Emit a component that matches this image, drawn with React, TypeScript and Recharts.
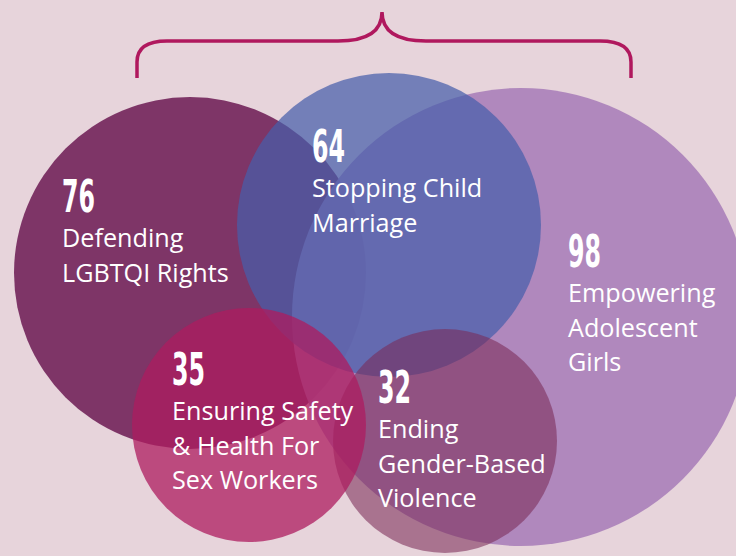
import { ScatterChart, Scatter, XAxis, YAxis, ZAxis, Customized } from 'recharts'

// drawing order matters: later circles sit on top
const KEYS = ['lgbtqi', 'girls', 'marriage', 'violence', 'sexwork']
const COUNTS = [76, 98, 64, 32, 35]
const CENTER_X = [190, 521, 389, 445, 249]
const CENTER_Y = [273, 317, 225, 441, 425]
const RADIUS = [176, 229, 152, 112, 117]

const LABEL_LINES = [
  ['Defending', 'LGBTQI Rights'],
  ['Empowering', 'Adolescent', 'Girls'],
  ['Stopping Child', 'Marriage'],
  ['Ending', 'Gender-Based', 'Violence'],
  ['Ensuring Safety', '& Health For', 'Sex Workers'],
]
const LABEL_X = [62, 568, 312, 378, 172]
const LABEL_Y = [212, 267, 162, 403, 385]

const COLORS: Record<string, { fill: string; opacity: number }> = {
  lgbtqi:   { fill: '#72245a', opacity: 0.9 },
  girls:    { fill: '#aa80b9', opacity: 0.9 },
  marriage: { fill: '#465eaa', opacity: 0.72 },
  violence: { fill: '#792a57', opacity: 0.57 },
  sexwork:  { fill: '#ad1c5f', opacity: 0.75 },
}

const BG = '#e7d4db'
const W = 736
const H = 556

const circles = KEYS.map((key, i) => ({
  key,
  x: CENTER_X[i],
  y: CENTER_Y[i],
  area: RADIUS[i] * RADIUS[i],
}))

const labels = KEYS.map((key, i) => ({
  key,
  x: LABEL_X[i],
  y: LABEL_Y[i],
  count: COUNTS[i],
  lines: LABEL_LINES[i],
}))

function Bubble(props: any) {
  const { cx, cy, width, payload } = props
  const c = COLORS[payload.key]
  return <circle cx={cx} cy={cy} r={width / 2} fill={c.fill} fillOpacity={c.opacity} />
}

function BubbleLabel(props: any) {
  const { cx, cy, payload } = props
  return (
    <g>
      <text
        x={cx}
        y={cy}
        fill="#fff"
        fontFamily="'Liberation Sans Narrow', 'DejaVu Sans Condensed', Roboto, sans-serif"
        fontWeight={700}
        fontSize={45}
        textLength={33}
        lengthAdjust="spacingAndGlyphs"
      >
        {payload.count}
      </text>
      {payload.lines.map((line: string, i: number) => (
        <text
          key={i}
          x={cx}
          y={cy + 35 + i * 34.5}
          fill="#fff"
          fontFamily="'Open Sans', sans-serif"
          fontSize={25.2}
        >
          {line}
        </text>
      ))}
    </g>
  )
}

function Brace() {
  return (
    <path
      d="M137 78 L137 62 Q137 41 167 41 L338 41 C366 41 382 32 382 12 C382 32 398 41 426 41 L600 41 Q631 41 631 62 L631 78"
      fill="none"
      stroke="#b0185e"
      strokeWidth={3.5}
    />
  )
}

export default function App() {
  return (
    <div style={{ position: 'fixed', left: 0, top: 0, width: W, height: H, background: BG, overflow: 'hidden' }}>
      <ScatterChart width={W} height={H} margin={{ top: 0, right: 0, bottom: 0, left: 0 }}>
        <XAxis type="number" dataKey="x" domain={[0, W]} hide />
        <YAxis type="number" dataKey="y" domain={[0, H]} reversed hide />
        <ZAxis zAxisId="area" type="number" dataKey="area" domain={[0, 100000]} range={[0, 100000 * Math.PI]} />
        <Customized component={Brace} />
        <Scatter data={circles} zAxisId="area" shape={Bubble} isAnimationActive={false} />
        <Scatter data={labels} shape={BubbleLabel} isAnimationActive={false} />
      </ScatterChart>
    </div>
  )
}
